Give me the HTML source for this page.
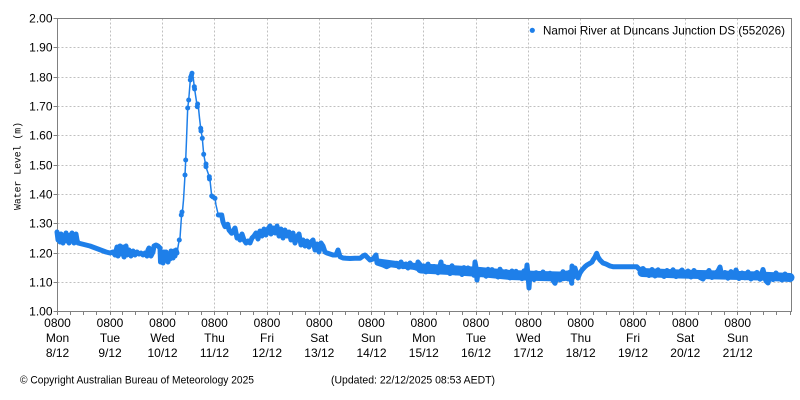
<!DOCTYPE html>
<html><head><meta charset="utf-8"><style>
html,body{margin:0;padding:0;background:#fff;}
svg{display:block;}
text{font-family:"Liberation Sans",sans-serif;fill:#000;}
</style></head><body>
<svg width="800" height="400" viewBox="0 0 800 400" xmlns="http://www.w3.org/2000/svg">
<rect x="0" y="0" width="800" height="400" fill="#fff"/>
<!-- grid -->
<g stroke="#c0c0c0" stroke-width="1" stroke-dasharray="2,2" fill="none">
<path d="M57.5 282.5H791.5M57.5 253.5H791.5M57.5 223.5H791.5M57.5 194.5H791.5M57.5 165.5H791.5M57.5 135.5H791.5M57.5 106.5H791.5M57.5 77.5H791.5M57.5 47.5H791.5"/>
<path d="M110.5 18.5V311.5M162.5 18.5V311.5M214.5 18.5V311.5M267.5 18.5V311.5M319.5 18.5V311.5M371.5 18.5V311.5M423.5 18.5V311.5M476.5 18.5V311.5M528.5 18.5V311.5M580.5 18.5V311.5M633.5 18.5V311.5M685.5 18.5V311.5M737.5 18.5V311.5"/>
</g>
<!-- frame -->
<rect x="57.5" y="18.5" width="734" height="293" fill="none" stroke="#808080" stroke-width="1"/>
<!-- y ticks -->
<path stroke="#808080" stroke-width="1" d="M53.5 311.5H57.5M53.5 282.5H57.5M53.5 253.5H57.5M53.5 223.5H57.5M53.5 194.5H57.5M53.5 165.5H57.5M53.5 135.5H57.5M53.5 106.5H57.5M53.5 77.5H57.5M53.5 47.5H57.5M53.5 18.5H57.5"/>
<!-- x ticks -->
<path stroke="#808080" stroke-width="1" d="M57.5 311v4M70.5 311v4M83.5 311v4M96.5 311v4M110.5 311v4M122.5 311v4M135.5 311v4M148.5 311v4M162.5 311v4M175.5 311v4M188.5 311v4M201.5 311v4M214.5 311v4M227.5 311v4M240.5 311v4M253.5 311v4M267.5 311v4M279.5 311v4M292.5 311v4M305.5 311v4M319.5 311v4M332.5 311v4M345.5 311v4M358.5 311v4M371.5 311v4M384.5 311v4M397.5 311v4M410.5 311v4M423.5 311v4M436.5 311v4M449.5 311v4M462.5 311v4M476.5 311v4M489.5 311v4M502.5 311v4M515.5 311v4M528.5 311v4M541.5 311v4M554.5 311v4M567.5 311v4M580.5 311v4M593.5 311v4M606.5 311v4M619.5 311v4M633.5 311v4M646.5 311v4M659.5 311v4M672.5 311v4M685.5 311v4M698.5 311v4M711.5 311v4M724.5 311v4M737.5 311v4M750.5 311v4M763.5 311v4M776.5 311v4M790.5 311v4"/>
<!-- y labels -->
<g font-size="12" text-anchor="end">
<text x="52.5" y="315.5">1.00</text>
<text x="52.5" y="286.5">1.10</text>
<text x="52.5" y="257.5">1.20</text>
<text x="52.5" y="227.5">1.30</text>
<text x="52.5" y="198.5">1.40</text>
<text x="52.5" y="169.5">1.50</text>
<text x="52.5" y="139.5">1.60</text>
<text x="52.5" y="110.5">1.70</text>
<text x="52.5" y="81.5">1.80</text>
<text x="52.5" y="51.5">1.90</text>
<text x="52.5" y="22.5">2.00</text>
</g>
<!-- x labels -->
<g font-size="12" text-anchor="middle">
<text x="57.5" y="327">0800</text><text x="57.5" y="342">Mon</text><text x="57.5" y="357">8/12</text>
<text x="110" y="327">0800</text><text x="110" y="342">Tue</text><text x="110" y="357">9/12</text>
<text x="162.5" y="327">0800</text><text x="162.5" y="342">Wed</text><text x="162.5" y="357">10/12</text>
<text x="214.5" y="327">0800</text><text x="214.5" y="342">Thu</text><text x="214.5" y="357">11/12</text>
<text x="267" y="327">0800</text><text x="267" y="342">Fri</text><text x="267" y="357">12/12</text>
<text x="319.3" y="327">0800</text><text x="319.3" y="342">Sat</text><text x="319.3" y="357">13/12</text>
<text x="371.5" y="327">0800</text><text x="371.5" y="342">Sun</text><text x="371.5" y="357">14/12</text>
<text x="423.8" y="327">0800</text><text x="423.8" y="342">Mon</text><text x="423.8" y="357">15/12</text>
<text x="476" y="327">0800</text><text x="476" y="342">Tue</text><text x="476" y="357">16/12</text>
<text x="528.4" y="327">0800</text><text x="528.4" y="342">Wed</text><text x="528.4" y="357">17/12</text>
<text x="580.7" y="327">0800</text><text x="580.7" y="342">Thu</text><text x="580.7" y="357">18/12</text>
<text x="633" y="327">0800</text><text x="633" y="342">Fri</text><text x="633" y="357">19/12</text>
<text x="685.3" y="327">0800</text><text x="685.3" y="342">Sat</text><text x="685.3" y="357">20/12</text>
<text x="737.7" y="327">0800</text><text x="737.7" y="342">Sun</text><text x="737.7" y="357">21/12</text>
</g>
<!-- y axis title -->
<text transform="translate(20.5,166) rotate(-90)" text-anchor="middle" font-size="10" style="font-family:'Liberation Mono',monospace" textLength="88" lengthAdjust="spacingAndGlyphs">Water Level (m)</text>
<!-- data -->
<g fill="none" stroke="#1e7fe9" stroke-linejoin="round" stroke-linecap="round">
<!-- thick band cores -->
<polyline stroke-width="10" points="421,268.5 450,270 480,272 510,275 540,276 560,276.5 572,275"/>
<polyline stroke-width="9" points="642,272.5 680,274 720,275 760,276 790,277.5"/>
<polyline stroke-width="7" points="378,262 400,265 421,267"/>
<polyline stroke-width="5" points="57,232 58,240 59,236 60,242 61,234 62,238 63,243 64,236 65,240 66,233 67,241 68,237 69,243 70,235 71,240 72,233 73,236 74,243 75,238 76,234 77,240 78,243 82,244 86,245 90,246 94,247.5 98,249 102,250.5 106,252 110,253 113,252 115,255 117,247 118,256 120,246 121,254 123,247 124,257 126,246 127,255 129,250 131,256 133,251 135,255 137,252 139,254 141,253 143,255 145,253 147,256 148,250 149,248 150,253 151,256 153,252 154,246 156,245 158,246 160,248 160.5,262 162,256 163,263 164,252 165,260 166,252 168,262 169,254 170,259 171,251 173,258 174,251 175,256 176,250 177,253"/>
<polyline stroke-width="1.5" points="177,253 179,241 180,238 181.5,216 182.3,213 183.5,200 185,175 185.7,160 186.5,140 187.7,108 188.7,100 189.5,90 190.3,80 191,75 192,73.3 193,76 194.3,86.7 195.5,95 197.3,106.7 198,103 199.5,118 200.7,128.3 202.3,138.3 203.7,154.3 206,166.7 207,170 209.3,176.7 210,180 211.7,196 215,198.3 216,205 218.3,215"/>
<polyline stroke-width="5" points="218.3,215 221.7,215 223,222 225,226.7 227.7,224.3 229,230 231.7,233.3 235,228 237,238 238,236 240,240 242,234 244,240 246,243 248,241 250,243 252,238 254,236 256,233 258,239 260,231 262,236 264,229 266,235 268,229 270,226 271,234 273,228 275,233 277,226 279,236 281,229 283,238 285,230 287,236 289,232 291,240 293,233 295,243 297,237 299,234 301,245 303,240 305,246 307,241 309,247 311,242 313,240 315,250 317,244 319,252 321,243 323,246 325,252 327,253 330,254 333,255 336,255 338,250 340,256.7 343,258 346,258.3 350,258.5 355,258.3 360,258.3 363,256 365,255 368,258 370,260 373,259 376,255 377,263 380,264 383,265 386.7,266.7 390,265 393,264 396.7,263.3 399,267 401,262 403,266.7 406,264 408,268 410,263 413,267 416.7,268.3 418,262 420,264.5 422,269.6 424,266.8 426,271.9 428,264.1 430,269.2 432,271.4 434,266.5 436,268.6 438,272.8 440,265.9 441,262 442,271.1 444,266.2 446,271.3 448,268.5 450,273.6 452,265.8 454,270.9 456,273 458,268.2 460,270.3 462,274.5 464,267.6 466,272.8 468,267.9 470,273 472,270.2 474,275.3 475,262 476,267.5 477,280 478,272.6 480,274.8 482,269.9 484,272 486,276.2 488,269.3 490,274.5 492,269.6 494,274.7 496,271.9 498,277 500,269.2 502,274.3 504,276.5 506,271.6 508,273.7 510,277.9 512,271 514,276.2 516,271.3 518,276.4 520,273.6 522,278.7 524,270.9 526,276 527,265 528,275 529,288 530,273.3 532,275.4 534,279.6 536,272.7 538,277.9 540,276.7 543,272 546,278 550,273.3 552,279 555,283.3 557,276 560,280 563,271.7 565,276 568,279 570,272 571.7,283.3 572,266 574,270 575,268 577,275 578,278 580,273 582,270 585,266.7 587,265 590,263.3 592,262 593,260 595,257 596.7,253.3 598,257 600,260 603,263 606,264 608,265 610,266 613,266.7 620,266.7 630,266.7 636.7,266.7 640,270 643,268.5 646,272 649,275.5 652,269.5 655,276 658,269.8 661,274 664,276.5 667,270.5 670,275.2 673,269.8 676,276.6 679,272.5 682,270 685,276 688,271 691,277 694,270.5 697,275 700,277.5 703,279 706,274.3 709,270.5 712,277.5 715,273.6 718,271 720,267 722,277 725,272.5 728,278.2 731,271.6 734,276.3 736,270 739,278.5 742,273 745,277.8 748,272 751,279 754,274.5 757,272.4 760,279.2 763,269.5 766,281 768,283 770,275 773,279.6 776,273 779,277.6 782,280 785,274 788,279 791,277"/>
</g>
<g fill="#1e7fe9">
<circle cx="179.3" cy="240" r="2.5"/><circle cx="181.3" cy="215" r="2.5"/><circle cx="182" cy="212" r="2.5"/>
<circle cx="185" cy="175" r="2.5"/><circle cx="185.7" cy="160" r="2.5"/><circle cx="187.7" cy="108" r="2.5"/>
<circle cx="188.7" cy="100" r="2.5"/><circle cx="190.3" cy="80" r="2.5"/><circle cx="190.7" cy="77" r="2.5"/>
<circle cx="191.5" cy="75" r="2.5"/><circle cx="192" cy="73.3" r="2.5"/><circle cx="194.3" cy="86.7" r="2.5"/>
<circle cx="194.6" cy="89" r="2.5"/><circle cx="197.3" cy="106.7" r="2.5"/><circle cx="197.6" cy="104" r="2.5"/>
<circle cx="200.7" cy="128.3" r="2.5"/><circle cx="201" cy="131" r="2.5"/><circle cx="202.3" cy="138.3" r="2.5"/>
<circle cx="203.7" cy="154.3" r="2.5"/><circle cx="206" cy="166.7" r="2.5"/><circle cx="206" cy="164" r="2.5"/>
<circle cx="209.3" cy="176.7" r="2.5"/><circle cx="209.5" cy="179" r="2.5"/><circle cx="211.7" cy="196" r="2.5"/>
<circle cx="213" cy="197" r="2.5"/><circle cx="215" cy="198.3" r="2.5"/>
</g>
<!-- legend -->
<circle cx="532.3" cy="30.3" r="2.6" fill="#1e7fe9"/>
<text x="543" y="34.5" font-size="12" textLength="242" lengthAdjust="spacingAndGlyphs">Namoi River at Duncans Junction DS (552026)</text>
<!-- footer -->
<text x="20" y="383.5" font-size="11" textLength="234" lengthAdjust="spacingAndGlyphs">© Copyright Australian Bureau of Meteorology 2025</text>
<text x="331" y="383.5" font-size="11" textLength="164" lengthAdjust="spacingAndGlyphs">(Updated: 22/12/2025 08:53 AEDT)</text>
</svg>
</body></html>
